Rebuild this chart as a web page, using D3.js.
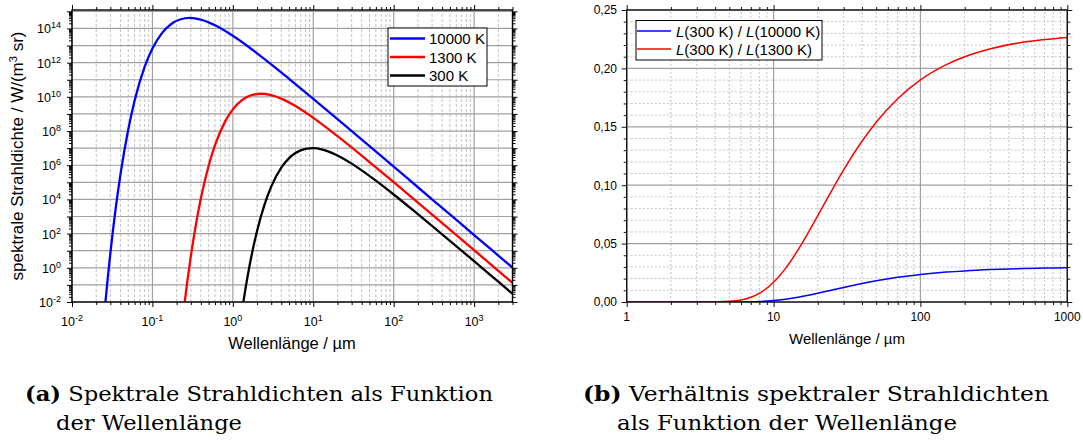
<!DOCTYPE html>
<html>
<head>
<meta charset="utf-8">
<script src="https://cdn.jsdelivr.net/npm/d3@7"></script>
<style>
  body { margin: 0; background: #fff; }
  svg text { font-family: "Liberation Sans", Arial, sans-serif; fill: #000; }
  svg text.caption { font-family: "DejaVu Serif", serif; }
</style>
</head>
<body>
<svg id="fig" width="1083" height="444"></svg>
<script>
// ---- chart (a): spectral radiance ----
const lam10000 = [0.026, 0.028, 0.03, 0.035, 0.04, 0.05, 0.06, 0.08, 0.1, 0.13, 0.17, 0.22, 0.29, 0.4, 0.6, 1, 1.5, 2, 3, 5, 10, 20, 50, 100, 200, 500, 1000, 2000, 3000];
const L10000 = [0.0093, 0.33, 7.2, 3.2e3, 2.8e5, 1.2e8, 5.9e9, 5.6e11, 6.7e12, 5.0e13, 1.77e14, 3.34e14, 4.1e14, 3.28e14, 1.53e14, 3.7e13, 9.7e12, 3.5e12, 7.96e11, 1.14e11, 7.7e9, 5.0e8, 1.31e7, 8.2e5, 5.15e4, 1.32e3, 82.8, 5.17, 1.02];

const lam1300 = [0.25, 0.27, 0.3, 0.35, 0.4, 0.5, 0.6, 0.8, 1, 1.3, 1.7, 2.2, 3, 4, 6, 10, 20, 50, 100, 200, 500, 1000, 2000, 3000];
const L1300 = [0.0072, 0.13, 4.7, 419, 1.12e4, 9.3e5, 1.49e7, 3.56e8, 1.86e9, 6.44e9, 1.25e10, 1.52e10, 1.26e10, 7.8e9, 2.88e9, 5.89e8, 5.04e7, 1.54e6, 1.02e5, 6.54e3, 170, 10.7, 0.671, 0.132];

const lam300 = [1.35, 1.45, 1.6, 1.8, 2, 2.5, 3, 4, 5, 6, 8, 10, 13, 17, 22, 30, 40, 60, 100, 200, 500, 1000, 2000, 3000];
const L300 = [0.0099, 0.080, 1.09, 16.9, 144, 5.68e3, 5.58e4, 7.2e5, 2.6e6, 5.18e6, 9.1e6, 9.93e6, 8.2e6, 5.31e6, 2.95e6, 1.24e6, 5.02e5, 1.25e5, 1.94e4, 1.37e3, 37.9, 2.43, 0.153, 0.0304];

const legendA = ["10000 K", "1300 K", "300 K"];
const xExpA = [-2, -1, 0, 1, 2, 3];
const yExpA = [-2, 0, 2, 4, 6, 8, 10, 12, 14];

// ---- chart (b): ratio of spectral radiances ----
const lamRatio = [1, 2, 3, 4, 5, 6, 7, 8, 10, 12, 15, 20, 25, 30, 40, 50, 70, 100, 150, 200, 300, 500, 700, 1000];
const ratio10000 = [0, 0, 0.00000007, 0.0000027, 0.0000228, 0.0000916, 0.000242, 0.000492, 0.001289, 0.002385, 0.004289, 0.007458, 0.010196, 0.012448, 0.015808, 0.018136, 0.0211, 0.023549, 0.025583, 0.026643, 0.027731, 0.028625, 0.029013, 0.029307];
const ratio1300 = [0, 0, 0.0000045, 0.0000926, 0.000557, 0.0018, 0.00409, 0.00747, 0.01687, 0.02836, 0.04651, 0.07391, 0.09587, 0.11304, 0.1376, 0.15392, 0.17406, 0.19018, 0.20326, 0.20997, 0.21679, 0.22234, 0.22473, 0.22653];

const legendB = [["300 K", "10000 K"], ["300 K", "1300 K"]];
const xTicksB = [1, 10, 100, 1000];
const yTicksB = [0, 0.05, 0.10, 0.15, 0.20, 0.25];

const captionA = ["Spektrale Strahldichten als Funktion", "der Wellenlänge"];
const captionB = ["Verhältnis spektraler Strahldichten", "als Funktion der Wellenlänge"];

let svg = d3.select("#fig");
svg.append("rect").attr("width", 1083).attr("height", 444).attr("fill", "#fff");

// major = decades, minor = 2..9 inside the domain
function logTicks(lo, hi) {
    let major = [], minor = [];
    for (let e = Math.floor(Math.log10(lo)); e <= Math.ceil(Math.log10(hi)); e++) {
        for (let m = 1; m < 10; m++) {
            let v = m * Math.pow(10, e);
            if (v < lo * 0.9999 || v > hi * 1.0001) continue;
            if (m == 1) major.push(v); else minor.push(v);
        }
    }
    return {major: major, minor: minor};
}

function drawFrame(g, x, y, xt, yt, frameColor) {
    let [x0, x1] = x.range();
    let [y0, y1] = y.range();
    let sides = [
        [d3.axisBottom(x), "translate(0," + y0 + ")", xt],
        [d3.axisTop(x), "translate(0," + y1 + ")", xt],
        [d3.axisLeft(y), "translate(" + x0 + ",0)", yt],
        [d3.axisRight(y), "translate(" + x1 + ",0)", yt]
    ];
    sides.forEach(function(s) {
        [[s[2].major, 5], [s[2].minor, 3]].forEach(function(t) {
            let a = g.append("g")
                .attr("transform", s[1])
                .call(s[0].tickValues(t[0]).tickSize(t[1]).tickSizeOuter(0).tickFormat(() => ""));
            a.select(".domain").remove();
            a.selectAll("line").attr("stroke", frameColor).attr("stroke-width", 1);
        });
    });
    g.append("rect")
        .attr("x", x0).attr("y", y1)
        .attr("width", x1 - x0).attr("height", y0 - y1)
        .attr("fill", "none")
        .attr("stroke", frameColor)
        .attr("stroke-width", 1.4);
}

function grid(g, x, y, xt, yt, minorDash) {
    let [x0, x1] = x.range();
    let [y0, y1] = y.range();
    g.append("g").selectAll("line").data(xt.minor).join("line")
        .attr("x1", d => x(d)).attr("x2", d => x(d)).attr("y1", y0).attr("y2", y1)
        .attr("stroke", "#c4c4c4").attr("stroke-dasharray", minorDash);
    g.append("g").selectAll("line").data(yt.minor).join("line")
        .attr("y1", d => y(d)).attr("y2", d => y(d)).attr("x1", x0).attr("x2", x1)
        .attr("stroke", "#c4c4c4").attr("stroke-dasharray", minorDash);
    g.append("g").selectAll("line").data(xt.major).join("line")
        .attr("x1", d => x(d)).attr("x2", d => x(d)).attr("y1", y0).attr("y2", y1)
        .attr("stroke", "#a0a0a0").attr("stroke-width", 1.2);
    g.append("g").selectAll("line").data(yt.major).join("line")
        .attr("y1", d => y(d)).attr("y2", d => y(d)).attr("x1", x0).attr("x2", x1)
        .attr("stroke", "#a0a0a0").attr("stroke-width", 1.2);
}

// ================= chart (a) =================
let xA = d3.scaleLog().domain([0.01, 3000]).range([72, 512.5]);
let yA = d3.scaleLog().domain([0.01, 1.2e15]).range([302, 10]);
let gA = svg.append("g");

let xtA = logTicks(0.01, 3000);
let ytA = {major: d3.range(-2, 16).map(e => Math.pow(10, e)), minor: logTicks(0.01, 1.2e15).minor};
grid(gA, xA, yA, xtA, {major: ytA.major, minor: []}, "3,2");

gA.append("clipPath").attr("id", "clipA")
    .append("rect").attr("x", 72).attr("y", 10).attr("width", 440.5).attr("height", 292);

let lineA = d3.line()
    .x(d => xA(d[0]))
    .y(d => yA(d[1]))
    .curve(d3.curveMonotoneX);

let seriesA = [
    {lam: lam10000, val: L10000, color: "#0000ff"},
    {lam: lam1300, val: L1300, color: "#ff0000"},
    {lam: lam300, val: L300, color: "#000000"}
];
seriesA.forEach(function(s) {
    gA.append("path")
        .datum(s.lam.map((l, i) => [l, s.val[i]]))
        .attr("clip-path", "url(#clipA)")
        .attr("fill", "none")
        .attr("stroke", s.color)
        .attr("stroke-width", 2.3)
        .attr("d", lineA);
});

drawFrame(gA, xA, yA, xtA, ytA, "#000");

// tick labels with exponents
gA.append("g").selectAll("text").data(xExpA).join("text")
    .attr("x", d => xA(Math.pow(10, d)))
    .attr("y", 326)
    .attr("text-anchor", "middle")
    .attr("font-size", 12.5)
    .each(function(d) {
        let t = d3.select(this);
        t.append("tspan").text("10");
        t.append("tspan").attr("dy", -5).attr("font-size", 9).text(d < 0 ? "-" + (-d) : d);
    });

gA.append("g").selectAll("text").data(yExpA).join("text")
    .attr("x", 61)
    .attr("y", d => yA(Math.pow(10, d)) + 5)
    .attr("text-anchor", "end")
    .attr("font-size", 12.5)
    .each(function(d) {
        let t = d3.select(this);
        t.append("tspan").text("10");
        t.append("tspan").attr("dy", -5).attr("font-size", 9).text(d < 0 ? "-" + (-d) : d);
    });

gA.append("text")
    .attr("x", 292).attr("y", 349)
    .attr("text-anchor", "middle")
    .attr("font-size", 16.5)
    .text("Wellenlänge / µm");

let ylab = gA.append("text")
    .attr("transform", "translate(23,156) rotate(-90)")
    .attr("text-anchor", "middle")
    .attr("font-size", 17);
ylab.append("tspan").text("spektrale Strahldichte / W/(m");
ylab.append("tspan").attr("dy", -6).attr("font-size", 11).text("3");
ylab.append("tspan").attr("dy", 6).text(" sr)");

// legend (a)
let legA = gA.append("g");
legA.append("rect")
    .attr("x", 388).attr("y", 28).attr("width", 99).attr("height", 58)
    .attr("fill", "#fff").attr("stroke", "#000").attr("stroke-width", 1);
legendA.forEach(function(name, i) {
    let yy = 38.5 + i * 18.5;
    legA.append("line")
        .attr("x1", 390).attr("x2", 425).attr("y1", yy).attr("y2", yy)
        .attr("stroke", seriesA[i].color).attr("stroke-width", 2.3);
    legA.append("text")
        .attr("x", 429).attr("y", yy + 5.5)
        .attr("font-size", 15)
        .text(name);
});

// ================= chart (b) =================
let xB = d3.scaleLog().domain([1, 1000]).range([626.7, 1067.3]);
let yB = d3.scaleLinear().domain([0, 0.25]).range([302, 10]);
let gB = svg.append("g");

let xtB = logTicks(1, 1000);
let ytB = {major: yTicksB, minor: d3.range(0, 26).filter(k => k % 5 != 0).map(k => k / 100)};
grid(gB, xB, yB, xtB, ytB, "2,2");

gB.append("clipPath").attr("id", "clipB")
    .append("rect").attr("x", 626.7).attr("y", 10).attr("width", 440.6).attr("height", 292);

let lineB = d3.line()
    .x(d => xB(d[0]))
    .y(d => yB(d[1]))
    .curve(d3.curveMonotoneX);

let seriesB = [
    {val: ratio10000, color: "#0000ff"},
    {val: ratio1300, color: "#ff0000"}
];
seriesB.forEach(function(s) {
    gB.append("path")
        .datum(lamRatio.map((l, i) => [l, s.val[i]]))
        .attr("clip-path", "url(#clipB)")
        .attr("fill", "none")
        .attr("stroke", s.color)
        .attr("stroke-width", 1.5)
        .attr("d", lineB);
});

drawFrame(gB, xB, yB, xtB, ytB, "#111");

gB.append("g").selectAll("text").data(xTicksB).join("text")
    .attr("x", d => xB(d))
    .attr("y", 321)
    .attr("text-anchor", "middle")
    .attr("font-size", 12)
    .text(d => d);

gB.append("g").selectAll("text").data(yTicksB).join("text")
    .attr("x", 617)
    .attr("y", d => yB(d) + 4.3)
    .attr("text-anchor", "end")
    .attr("font-size", 12)
    .text(d => d3.format(".2f")(d).replace(".", ","));

gB.append("text")
    .attr("x", 847).attr("y", 344)
    .attr("text-anchor", "middle")
    .attr("font-size", 15)
    .text("Wellenlänge / µm");

// legend (b)
let legB = gB.append("g");
legB.append("rect")
    .attr("x", 636).attr("y", 20.5).attr("width", 186).attr("height", 39.5)
    .attr("fill", "#fff").attr("stroke", "#000").attr("stroke-width", 1);
legendB.forEach(function(pair, i) {
    let yy = 31 + i * 18;
    legB.append("line")
        .attr("x1", 637).attr("x2", 671).attr("y1", yy).attr("y2", yy)
        .attr("stroke", seriesB[i].color).attr("stroke-width", 1.5);
    let t = legB.append("text")
        .attr("x", 676).attr("y", yy + 5.5)
        .attr("font-size", 15);
    t.append("tspan").attr("font-style", "italic").text("L");
    t.append("tspan").text("(" + pair[0] + ") / ");
    t.append("tspan").attr("font-style", "italic").text("L");
    t.append("tspan").text("(" + pair[1] + ")");
});

// ================= captions =================
// the LaTeX serif is wider than DejaVu Serif, so each line is stretched to the width seen
function caption(x, indent, tag, lines, widths) {
    let t1 = svg.append("text").attr("class", "caption")
        .attr("x", x).attr("y", 401).attr("font-size", 19.5)
        .attr("textLength", widths[0]).attr("lengthAdjust", "spacingAndGlyphs");
    t1.append("tspan").attr("font-weight", "bold").text(tag);
    t1.append("tspan").text(" " + lines[0]);
    svg.append("text").attr("class", "caption")
        .attr("x", x + indent).attr("y", 430).attr("font-size", 19.5)
        .attr("textLength", widths[1]).attr("lengthAdjust", "spacingAndGlyphs")
        .text(lines[1]);
}
caption(25, 31, "(a)", captionA, [468, 186]);
caption(583, 34, "(b)", captionB, [466, 340]);
</script>
</body>
</html>
